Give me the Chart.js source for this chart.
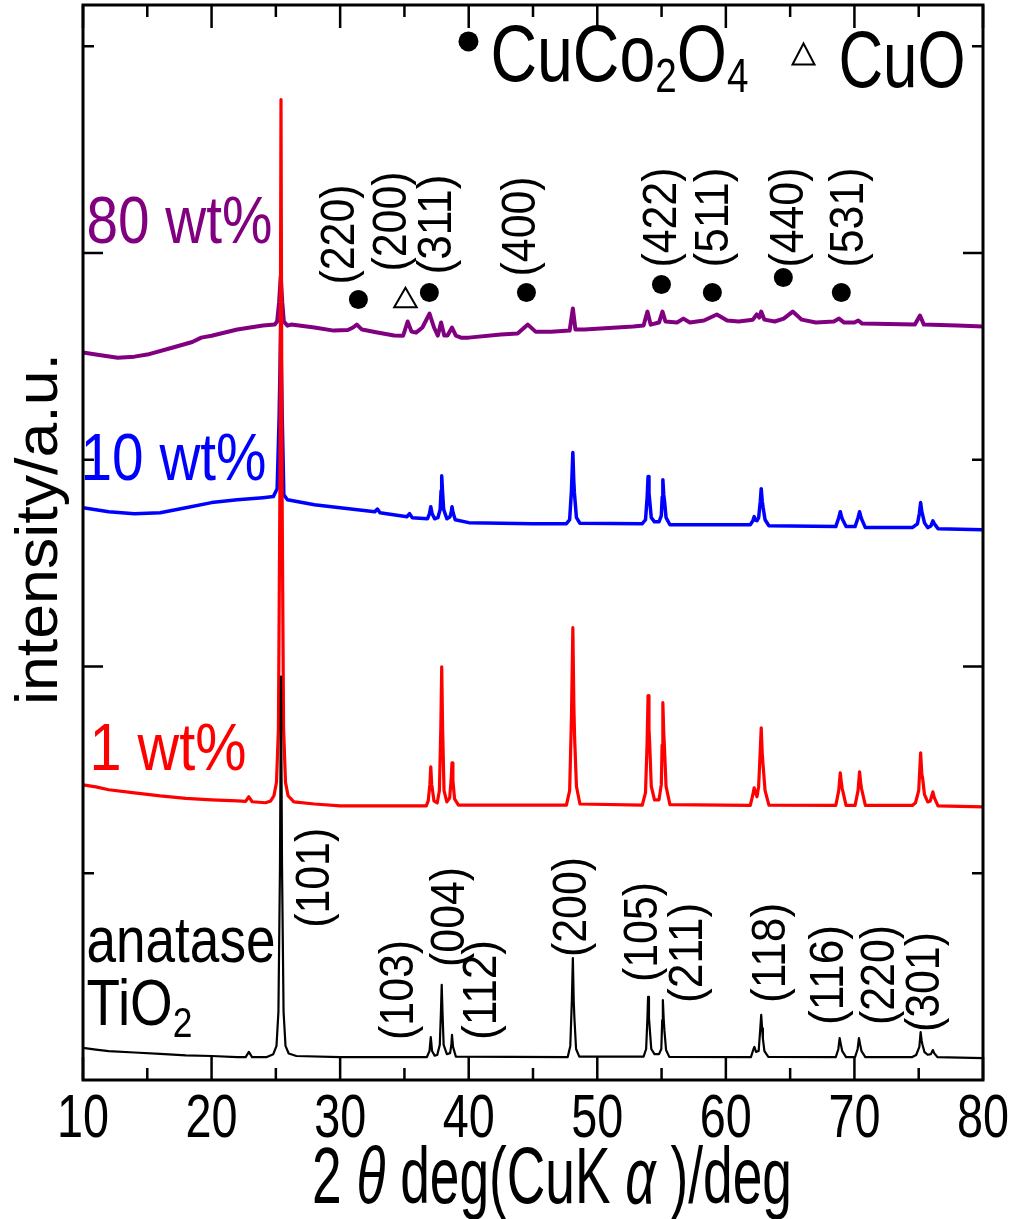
<!DOCTYPE html>
<html>
<head>
<meta charset="utf-8">
<title>XRD patterns</title>
<script src="https://cdn.jsdelivr.net/npm/chart.js@4.4.1/dist/chart.umd.min.js"></script>
<style>
  html, body { margin: 0; padding: 0; background: #fff; }
  #wrap { width: 1015px; height: 1219px; }
</style>
</head>
<body>
<div id="wrap"><canvas id="xrd" width="1015" height="1219"></canvas></div>
<script>
/* XRD patterns: anatase TiO2 and CuCo2O4 loaded samples, [2theta, counts] */
const anatase = [
  [10,155],[11,147],[12,140],[14,133],[16,126],[18,119],[20,116],[22,111],[22.65,111],[22.9,136],[23.15,111],
  [24.3,111],[24.8,125],[25.05,165],[25.2,330],[25.32,1030],[25.4,1951],[25.48,1030],[25.6,330],[25.75,165],[26.0,128],[26.6,116],[30,111],
  [36.75,111],[36.95,140],[37.05,208],[37.15,140],[37.35,118],
  [37.55,121],[37.75,170],[37.84,330],[37.9,460],[37.96,330],[38.05,170],[38.3,125],
  [38.55,130],[38.65,170],[38.7,218],[38.78,160],[39.0,113],
  [47.7,111],[47.9,165],[48.02,380],[48.1,590],[48.17,380],[48.22,300],[48.35,150],[48.6,113],
  [53.6,113],[53.8,150],[53.9,300],[53.95,402],[54.02,300],[54.08,250],[54.2,150],[54.45,125],
  [54.8,125],[54.98,150],[55.05,290],[55.1,387],[55.17,290],[55.22,240],[55.35,145],[55.6,112],
  [61.95,111],[62.15,150],[62.22,160],[62.35,136],
  [62.55,140],[62.68,250],[62.75,315],[62.82,250],[62.88,200],[63.0,140],[63.3,112],
  [68.55,111],[68.75,150],[68.85,203],[68.95,170],[69.05,140],[69.35,111],
  [70.05,111],[70.25,150],[70.35,203],[70.45,170],[70.55,140],[70.85,111],
  [74.5,111],[74.8,121],[75.05,160],[75.15,232],[75.23,190],[75.3,169],[75.45,135],[75.7,122],
  [75.95,125],[76.1,145],[76.2,130],[76.45,111],[80,106]
];

const wt1 = [
  [10,1428],[11,1418],[12,1404],[14,1389],[16,1374],[18,1362],[20,1355],[22,1350],[22.65,1348],[22.9,1370],[23.15,1346],
  [24.2,1341],[24.6,1350],[24.85,1375],[25.05,1440],[25.2,1700],[25.32,2900],[25.4,4743],[25.48,2900],[25.6,1700],[25.75,1440],[25.95,1375],[26.4,1345],[28,1335],[30,1326],[36.7,1326],
  [36.85,1350],[36.98,1430],[37.05,1515],[37.12,1430],[37.3,1350],
  [37.55,1340],[37.72,1400],[37.83,1700],[37.9,1999],[37.97,1700],[38.08,1400],[38.3,1345],
  [38.52,1365],[38.63,1450],[38.7,1534],[38.77,1450],[38.9,1360],[39.2,1330],
  [47.6,1330],[47.85,1400],[47.99,1750],[48.1,2188],[48.18,1800],[48.24,1650],[48.38,1420],[48.65,1335],
  [53.5,1330],[53.75,1390],[53.87,1620],[53.95,1859],[54.02,1700],[54.08,1620],[54.2,1420],[54.45,1355],
  [54.8,1355],[54.98,1430],[55.04,1620],[55.1,1825],[55.17,1680],[55.23,1600],[55.35,1420],[55.65,1332],
  [61.9,1328],[62.1,1380],[62.2,1413],[62.32,1390],[62.42,1370],
  [62.55,1420],[62.68,1600],[62.75,1704],[62.83,1580],[62.9,1520],[63.05,1400],[63.35,1330],
  [68.55,1328],[68.78,1400],[68.9,1486],[68.98,1440],[69.05,1410],[69.35,1328],
  [70.05,1328],[70.28,1400],[70.4,1491],[70.48,1440],[70.55,1410],[70.85,1328],
  [74.5,1328],[74.75,1341],[75.0,1400],[75.15,1583],[75.24,1480],[75.3,1462],[75.45,1380],[75.7,1345],
  [75.9,1350],[76.1,1394],[76.22,1365],[76.5,1326],[80,1321]
];

const wt10 = [
  [10,2768],[12,2749],[14,2739],[16,2744],[18,2768],[20,2793],[22,2807],[24,2817],[24.8,2822],[25.1,2860],[25.25,3194],[25.38,3640],[25.5,3194],[25.62,2831],[25.9,2807],
  [28,2783],[30,2768],[32.7,2749],[32.9,2762],[33.1,2744],[35.2,2725],[35.4,2740],[35.6,2720],[36.8,2715],
  [36.95,2740],[37.05,2773],[37.15,2740],[37.35,2715],
  [37.6,2720],[37.78,2760],[37.85,2850],[37.9,2923],[37.96,2850],[38.05,2760],[38.3,2715],
  [38.55,2725],[38.65,2750],[38.7,2773],[38.78,2745],[38.95,2710],
  [40,2696],[45,2691],[47.6,2691],
  [47.85,2710],[47.99,2850],[48.1,3035],[48.17,2900],[48.22,2840],[48.38,2720],[48.65,2693],
  [53.5,2691],
  [53.75,2710],[53.88,2820],[53.95,2919],[54.02,2840],[54.08,2800],[54.2,2720],[54.45,2700],
  [54.8,2700],[54.98,2730],[55.05,2820],[55.1,2904],[55.17,2830],[55.23,2800],[55.35,2720],[55.65,2686],
  [61.9,2686],[62.1,2705],[62.2,2725],[62.32,2708],[62.42,2705],
  [62.55,2720],[62.68,2800],[62.75,2860],[62.83,2800],[62.9,2768],[63.05,2710],[63.35,2681],
  [68.55,2677],[68.78,2720],[68.9,2749],[68.98,2730],[69.05,2715],[69.35,2677],
  [70.05,2677],[70.28,2720],[70.4,2749],[70.48,2730],[70.55,2715],[70.85,2672],
  [74.5,2672],[74.9,2690],[75.05,2740],[75.15,2793],[75.24,2750],[75.3,2735],[75.45,2695],[75.7,2672],
  [75.95,2680],[76.1,2705],[76.22,2690],[76.5,2667],[80,2662]
];

const wt80 = [
  [10,3519],[11,3509],[12.7,3494],[14,3499],[15,3509],[17,3543],[18.5,3570],[19.2,3591],[20,3600],[22,3630],[24,3650],[24.9,3654],
  [25.1,3669],[25.25,3760],[25.38,3887],[25.5,3760],[25.62,3669],[25.9,3649],[26.2,3654],[28,3640],[29.5,3625],
  [30.6,3628],[31.0,3640],[31.3,3654],[31.7,3630],[33,3615],[34.2,3601],[34.9,3600],[35.25,3669],[35.55,3620],[35.9,3615],
  [36.4,3640],[36.95,3707],[37.3,3640],[37.6,3601],[37.85,3664],[38.1,3601],[38.35,3601],[38.7,3640],[39.0,3601],[39.4,3591],
  [40,3591],[42.5,3606],[43.8,3611],[44.6,3654],[45.2,3620],[46.4,3620],[47.85,3625],[48.1,3732],[48.3,3630],[49,3630],
  [52.8,3645],[53.6,3650],[53.9,3717],[54.15,3654],[54.8,3664],[55.07,3717],[55.3,3669],[56.2,3664],[56.7,3683],[57.2,3664],
  [58.3,3674],[59.3,3703],[60.1,3674],[61.0,3669],[62.1,3678],[62.4,3703],[62.6,3688],[62.75,3717],[63.0,3678],[63.8,3669],
  [64.5,3683],[65.2,3717],[65.9,3678],[67,3664],[68.4,3669],[68.8,3683],[69.2,3664],[70.0,3664],[70.3,3674],[70.6,3659],
  [74.7,3654],[75.1,3698],[75.4,3654],[78,3650],[80,3645]
];

// peak markers above the 80 wt% pattern
const spinelMarks = [[31.42,3775],[36.94,3809],[44.49,3809],[54.99,3848],[58.95,3809],[64.47,3882],[68.98,3809]];
const cuoMarks = [[35.08,3770]];

// Miller indices: text, 2theta of text centre, counts at text start
const spinelHkl = ['(220)', '(200)', '(311)', '(400)', '(422)', '(511)', '(440)', '(531)'];
const spinelHklAt = [[30.02,3848],[34.07,3911],[37.57,3896],[44.1,3887],[55.07,3930],[59.1,3930],[65.0,3930],[69.6,3930]];
const anataseHkl = ['(101)', '(103)', '(004)', '(112)', '(200)', '(105)', '(211)', '(118)', '(116)', '(220)', '(301)'];
const anataseHklAt = [[28.09,736],[34.61,194],[38.58,547],[41.07,194],[48.06,595],[53.58,474],[57.08,373],[63.54,373],[68.05,266],[72.02,266],[75.51,232]];

const xTicks = [10, 20, 30, 40, 50, 60, 70, 80];

const FONT = '"Liberation Sans", Arial, Helvetica, sans-serif';

function fontOf(r) {
  return (r.italic ? 'italic ' : '') + r.size + 'px ' + FONT;
}

// draws a row of text runs squeezed to a given width
function drawRuns(ctx, runs, x, y, width, opts = {}) {
  ctx.save();
  ctx.translate(x, y);
  if (opts.angle) ctx.rotate(opts.angle);
  ctx.fillStyle = opts.color || '#000';
  ctx.textBaseline = opts.baseline || 'alphabetic';
  ctx.textAlign = 'left';
  let natural = 0;
  runs.forEach(r => { ctx.font = fontOf(r); natural += ctx.measureText(r.t).width; });
  ctx.scale(width / natural, 1);
  let cx = opts.align === 'center' ? -natural / 2 : 0;
  runs.forEach(r => {
    ctx.font = fontOf(r);
    ctx.fillText(r.t, cx, r.dy || 0);
    cx += ctx.measureText(r.t).width;
  });
  ctx.restore();
}

const decorations = {
  id: 'decorations',
  afterDatasetsDraw(chart) {
    const { ctx, chartArea: a, scales: { x, y } } = chart;
    const px = v => x.getPixelForValue(v);
    const py = v => y.getPixelForValue(v);

    // frame and inward ticks on all sides
    ctx.save();
    ctx.strokeStyle = '#000';
    ctx.lineWidth = 2.5;
    ctx.beginPath();
    for (let v = 10; v <= 80; v += 5) {
      const len = v % 10 === 0 ? 23 : 12;
      ctx.moveTo(px(v), a.bottom); ctx.lineTo(px(v), a.bottom - len);
      ctx.moveTo(px(v), a.top); ctx.lineTo(px(v), a.top + len);
    }
    for (let v = 1000; v <= 5000; v += 1000) {
      const len = v % 2000 === 0 ? 20 : 11;
      ctx.moveTo(a.left, py(v)); ctx.lineTo(a.left + len, py(v));
      ctx.moveTo(a.right, py(v)); ctx.lineTo(a.right - len, py(v));
    }
    ctx.stroke();
    ctx.lineWidth = 3;
    ctx.strokeRect(a.left, a.top, a.right - a.left, a.bottom - a.top);
    ctx.restore();

    // x tick labels and axis titles
    xTicks.forEach(v => drawRuns(ctx, [{ t: String(v), size: 61 }], px(v), a.bottom + 57, 52, { align: 'center' }));
    drawRuns(ctx, [
      { t: '2 ', size: 80 }, { t: 'θ', size: 80, italic: true }, { t: ' deg(CuK ', size: 80 },
      { t: 'α', size: 80, italic: true }, { t: ' )/deg', size: 80 }
    ], 312, a.bottom + 123, 480);
    drawRuns(ctx, [{ t: 'intensity/a.u.', size: 60 }], 57, 705, 352, { angle: -Math.PI / 2 });

    // sample names
    drawRuns(ctx, [{ t: '80 wt%', size: 67 }], px(10.27), py(4051), 186, { color: '#800080' });
    drawRuns(ctx, [{ t: '10 wt%', size: 67 }], px(9.81), py(2904), 186, { color: '#0000ff' });
    drawRuns(ctx, [{ t: '1 wt%', size: 67 }], px(10.5), py(1500), 157, { color: '#ff0000' });
    drawRuns(ctx, [{ t: 'anatase', size: 65 }], px(10.27), py(571), 189);
    drawRuns(ctx, [{ t: 'TiO', size: 65 }, { t: '2', size: 42, dy: 12 }], px(10.27), py(266), 106);

    // phase legend
    ctx.save();
    ctx.fillStyle = '#000';
    ctx.beginPath();
    ctx.arc(px(39.98), py(5024), 10, 0, Math.PI * 2);
    ctx.fill();
    const tx = px(66.04), ty = py(4956);
    ctx.lineWidth = 2;
    ctx.beginPath();
    ctx.moveTo(tx, ty - 12); ctx.lineTo(tx + 11, ty + 9); ctx.lineTo(tx - 11, ty + 9);
    ctx.closePath();
    ctx.stroke();
    ctx.restore();
    drawRuns(ctx, [
      { t: 'CuCo', size: 80 }, { t: '2', size: 48, dy: 11 }, { t: 'O', size: 80 }, { t: '4', size: 48, dy: 11 }
    ], px(41.69), py(4830), 258);
    drawRuns(ctx, [{ t: 'CuO', size: 80 }], px(68.76), py(4801), 127);

    // Miller indices, read bottom to top
    spinelHkl.forEach((t, i) => drawRuns(ctx, [{ t, size: 48 }], px(spinelHklAt[i][0]), py(spinelHklAt[i][1]), 100,
      { angle: -Math.PI / 2, baseline: 'middle' }));
    anataseHkl.forEach((t, i) => drawRuns(ctx, [{ t, size: 48 }], px(anataseHklAt[i][0]), py(anataseHklAt[i][1]), 100,
      { angle: -Math.PI / 2, baseline: 'middle' }));
  }
};

const toXY = arr => arr.map(([x, y]) => ({ x, y }));

const trace = (label, arr, color, width) => ({
  label,
  data: toXY(arr),
  borderColor: color,
  borderWidth: width,
  borderJoinStyle: 'round',
  pointRadius: 0,
  fill: false,
  tension: 0
});

new Chart(document.getElementById('xrd'), {
  type: 'line',
  data: {
    datasets: [
      { label: 'CuCo2O4', data: toXY(spinelMarks), showLine: false, pointStyle: 'circle', pointRadius: 9.5,
        pointBackgroundColor: '#000', pointBorderColor: '#000', pointBorderWidth: 0 },
      { label: 'CuO', data: toXY(cuoMarks), showLine: false, pointStyle: 'triangle', pointRadius: 13,
        pointBackgroundColor: '#fff', pointBorderColor: '#000', pointBorderWidth: 2 },
      trace('anatase TiO2', anatase, '#000000', 2.2),
      trace('1 wt%', wt1, '#ff0000', 3.2),
      trace('80 wt%', wt80, '#800080', 4),
      trace('10 wt%', wt10, '#0000ff', 3.5)
    ]
  },
  options: {
    responsive: false,
    animation: false,
    devicePixelRatio: 1,
    layout: { autoPadding: false, padding: { left: 83, right: 32, top: 5, bottom: 139 } },
    plugins: { legend: { display: false }, tooltip: { enabled: false } },
    scales: {
      x: { type: 'linear', min: 10, max: 80, display: false },
      y: { type: 'linear', min: 0, max: 5200, display: false }
    }
  },
  plugins: [decorations]
});
</script>
</body>
</html>
